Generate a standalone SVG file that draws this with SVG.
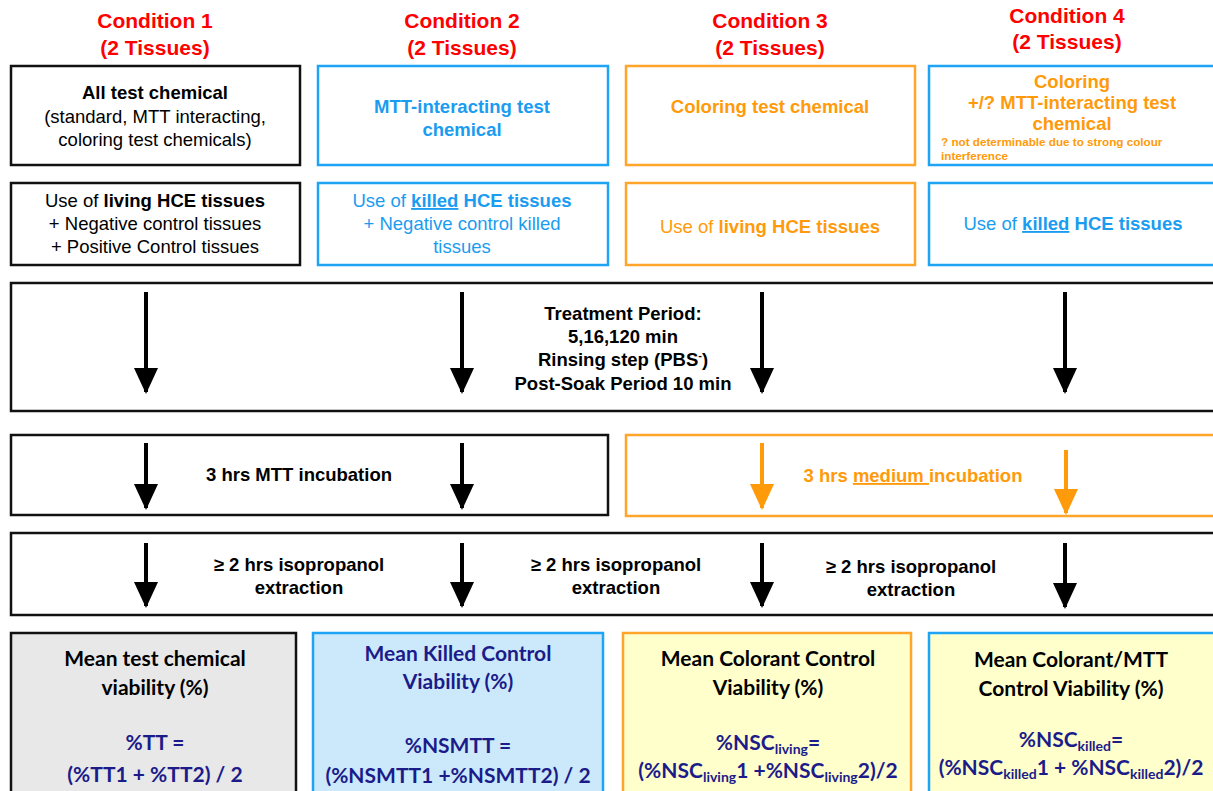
<svg xmlns="http://www.w3.org/2000/svg" width="1213" height="791" viewBox="0 0 1213 791">
<defs>
<marker id="ah" markerUnits="userSpaceOnUse" markerWidth="26" markerHeight="28" refX="24" refY="12" orient="auto"><path d="M0,0 L26,12 L0,24 Z" fill="#000"/></marker>
<marker id="aho" markerUnits="userSpaceOnUse" markerWidth="26" markerHeight="28" refX="24" refY="12" orient="auto"><path d="M0,0 L26,12 L0,24 Z" fill="#ff9a0a"/></marker>
<style>
text{font-family:"Liberation Sans",Arial,sans-serif;font-size:18.5px;text-anchor:middle}
.t{fill:#ff0000;font-weight:bold;font-size:21px}
.b{font-weight:bold}
.bl{fill:#1a9cf0}
.or{fill:#ff9a0a}
.k{fill:#000}
.m{font-weight:bold;font-size:18.5px}
.cal{font-family:Lato,"Open Sans",sans-serif;font-weight:bold;font-size:21px}
.nv{fill:#1b1b8a}
.bx{fill:#fff;stroke-width:2.5}
.sk{stroke:#111}
.sb{stroke:#1ea4f5}
.so{stroke:#ffa52a}
.ar{stroke:#000;stroke-width:4;marker-end:url(#ah)}
.aro{stroke:#ff9a0a;stroke-width:4;marker-end:url(#aho)}
</style>
</defs>
<g id="titles">
<text class="t" x="155" y="28">Condition 1</text><text class="t" x="155" y="55">(2 Tissues)</text>
<text class="t" x="462" y="28">Condition 2</text><text class="t" x="462" y="55">(2 Tissues)</text>
<text class="t" x="770" y="28">Condition 3</text><text class="t" x="770" y="55">(2 Tissues)</text>
<text class="t" x="1067" y="23">Condition 4</text><text class="t" x="1067" y="49">(2 Tissues)</text>
</g>
<g id="chem1"><rect class="bx sk" x="11" y="66" width="289" height="99"/>
<text x="155" y="99" class="b">All test chemical</text><text x="155" y="123">(standard, MTT interacting,</text><text x="155" y="146">coloring test chemicals)</text></g>
<g id="chem2"><rect class="bx sb" x="318" y="66" width="290" height="99"/>
<text x="462" y="113" class="b bl">MTT-interacting test</text><text x="462" y="136" class="b bl">chemical</text></g>
<g id="chem3"><rect class="bx so" x="626" y="66" width="289" height="99"/>
<text x="770" y="113" class="b or">Coloring test chemical</text></g>
<g id="chem4"><rect class="bx sb" x="929" y="66" width="290" height="99"/>
<text x="1072" y="88" class="b or">Coloring</text><text x="1072" y="109" class="b or">+/? MTT-interacting test</text><text x="1072" y="130" class="b or">chemical</text>
<text x="941" y="146" class="b or" style="font-size:11.7px;text-anchor:start">? not determinable due to strong colour</text>
<text x="941" y="160" class="b or" style="font-size:11.7px;text-anchor:start">interference</text></g>
<g id="tis1"><rect class="bx sk" x="11" y="183" width="289" height="82"/>
<text x="155" y="207">Use of <tspan class="b">living HCE tissues</tspan></text><text x="155" y="230">+ Negative control tissues</text><text x="155" y="253">+ Positive Control tissues</text></g>
<g id="tis2"><rect class="bx sb" x="318" y="183" width="290" height="82"/>
<text x="462" y="207" class="bl">Use of <tspan class="b" text-decoration="underline">killed</tspan> <tspan class="b">HCE tissues</tspan></text><text x="462" y="230" class="bl">+ Negative control killed</text><text x="462" y="253" class="bl">tissues</text></g>
<g id="tis3"><rect class="bx so" x="626" y="183" width="289" height="82"/>
<text x="770" y="233" class="or">Use of <tspan class="b">living HCE tissues</tspan></text></g>
<g id="tis4"><rect class="bx sb" x="929" y="183" width="290" height="82"/>
<text x="1073" y="230" class="bl">Use of <tspan class="b" text-decoration="underline">killed</tspan> <tspan class="b">HCE tissues</tspan></text></g>
<g id="treatment"><rect class="bx sk" x="11" y="283" width="1210" height="128"/>
<text x="623" y="320" class="m">Treatment Period:</text>
<text x="623" y="343" class="m">5,16,120 min</text>
<text x="623" y="366" class="m">Rinsing step (PBS<tspan dy="-7" style="font-size:11px">-</tspan><tspan dy="7">)</tspan></text>
<text x="623" y="390" class="m">Post-Soak Period 10 min</text></g>
<g id="mtt"><rect class="bx sk" x="11" y="435" width="597" height="80"/>
<text x="299" y="481" class="m">3 hrs MTT incubation</text></g>
<g id="medium"><rect class="bx so" x="626" y="435" width="595" height="81"/>
<text x="913" y="482" class="m or">3 hrs <tspan text-decoration="underline">medium </tspan>incubation</text></g>
<g id="extraction"><rect class="bx sk" x="11" y="533" width="1210" height="82"/>
<text x="299" y="571" class="m">≥ 2 hrs isopropanol</text><text x="299" y="594" class="m">extraction</text>
<text x="616" y="571" class="m">≥ 2 hrs isopropanol</text><text x="616" y="594" class="m">extraction</text>
<text x="911" y="573" class="m">≥ 2 hrs isopropanol</text><text x="911" y="596" class="m">extraction</text></g>
<g id="res1"><rect x="11" y="633" width="285" height="170" fill="#e8e8e8" stroke="#111" stroke-width="2.5"/>
<text class="cal" x="155" y="666">Mean test chemical</text><text class="cal" x="155" y="695">viability (%)</text>
<text class="cal nv" x="155" y="750">%TT =</text><text class="cal nv" x="155" y="782">(%TT1 + %TT2) / 2</text></g>
<g id="res2"><rect x="313" y="633" width="290" height="170" fill="#cce9fb" stroke="#1ea4f5" stroke-width="2.5"/>
<text class="cal nv" x="458" y="661">Mean Killed Control</text><text class="cal nv" x="458" y="689">Viability (%)</text>
<text class="cal nv" x="458" y="753">%NSMTT =</text><text class="cal nv" x="458" y="783">(%NSMTT1 +%NSMTT2) / 2</text></g>
<g id="res3"><rect x="623" y="633" width="288" height="170" fill="#ffffcc" stroke="#ffa52a" stroke-width="2.5"/>
<text class="cal k" x="768" y="666">Mean Colorant Control</text><text class="cal k" x="768" y="695">Viability (%)</text>
<text class="cal nv" x="768" y="750">%NSC<tspan dy="4" style="font-size:14px">living</tspan><tspan dy="-4">=</tspan></text>
<text class="cal nv" x="768" y="778">(%NSC<tspan dy="4" style="font-size:14px">living</tspan><tspan dy="-4">1 +%NSC</tspan><tspan dy="4" style="font-size:14px">living</tspan><tspan dy="-4">2)/2</tspan></text></g>
<g id="res4"><rect x="929" y="633" width="290" height="170" fill="#ffffcc" stroke="#1ea4f5" stroke-width="2.5"/>
<text class="cal k" x="1071" y="667">Mean Colorant/MTT</text><text class="cal k" x="1071" y="696">Control Viability (%)</text>
<text class="cal nv" x="1071" y="747">%NSC<tspan dy="4" style="font-size:14px">killed</tspan><tspan dy="-4">=</tspan></text>
<text class="cal nv" x="1071" y="775">(%NSC<tspan dy="4" style="font-size:14px">killed</tspan><tspan dy="-4">1 + %NSC</tspan><tspan dy="4" style="font-size:14px">killed</tspan><tspan dy="-4">2)/2</tspan></text></g>
<g id="connectors">
<line class="ar" x1="146" y1="292" x2="146" y2="392"/>
<line class="ar" x1="462" y1="292" x2="462" y2="392"/>
<line class="ar" x1="762" y1="292" x2="762" y2="392"/>
<line class="ar" x1="1065" y1="292" x2="1065" y2="392"/>
<line class="ar" x1="146" y1="443" x2="146" y2="508"/>
<line class="ar" x1="462" y1="443" x2="462" y2="508"/>
<line class="aro" x1="762" y1="443" x2="762" y2="508"/>
<line class="aro" x1="1066" y1="450" x2="1066" y2="513"/>
<line class="ar" x1="146" y1="543" x2="146" y2="606"/>
<line class="ar" x1="462" y1="543" x2="462" y2="606"/>
<line class="ar" x1="762" y1="543" x2="762" y2="606"/>
<line class="ar" x1="1065" y1="543" x2="1065" y2="607"/>
</g>
</svg>
